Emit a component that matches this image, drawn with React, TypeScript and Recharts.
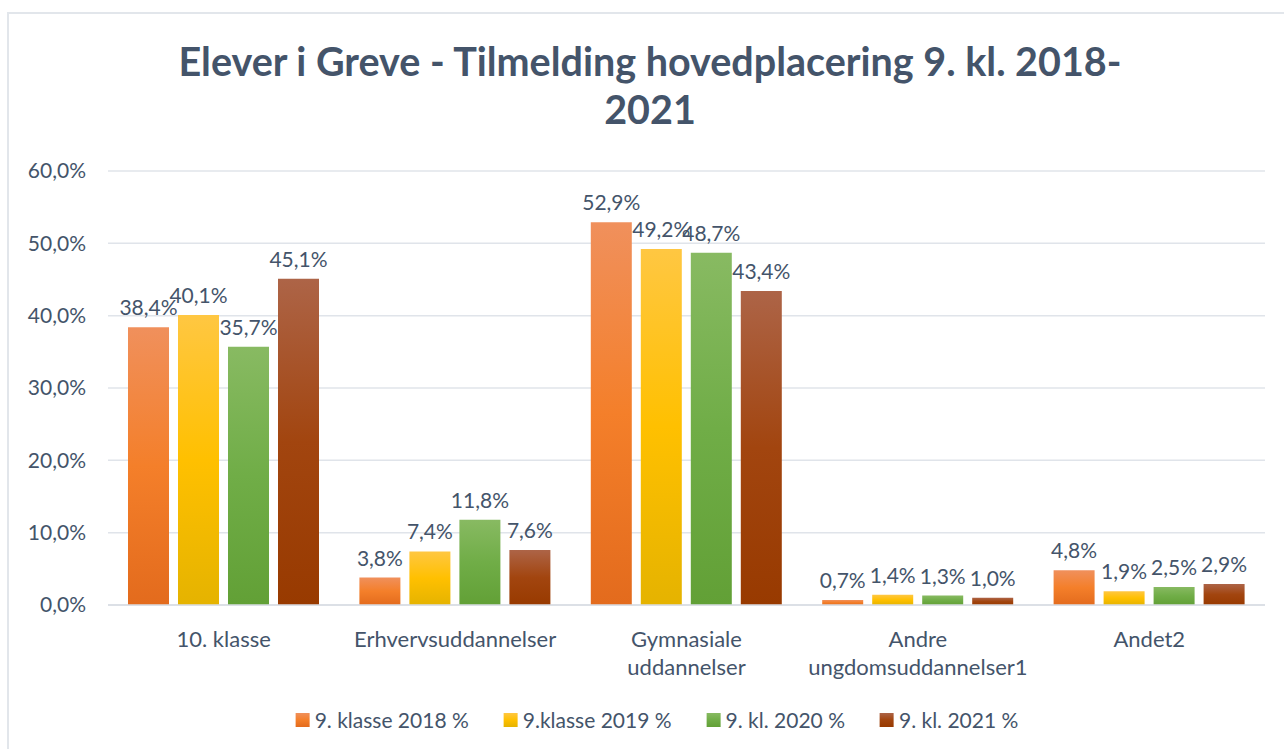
import React from "react";
import { BarChart, Bar, XAxis, YAxis, CartesianGrid, LabelList } from "recharts";

const categories = [
  "10. klasse",
  "Erhvervsuddannelser",
  "Gymnasiale\nuddannelser",
  "Andre\nungdomsuddannelser1",
  "Andet2",
];

const seriesNames = ["9. klasse 2018 %", "9.klasse 2019 %", "9. kl. 2020 %", "9. kl. 2021 %"];

const values2018 = [38.4, 3.8, 52.9, 0.7, 4.8];
const values2019 = [40.1, 7.4, 49.2, 1.4, 1.9];
const values2020 = [35.7, 11.8, 48.7, 1.3, 2.5];
const values2021 = [45.1, 7.6, 43.4, 1.0, 2.9];

const yTicks = [0, 10, 20, 30, 40, 50, 60];

const seriesKeys = ["s2018", "s2019", "s2020", "s2021"];

// top / middle / bottom colours of each bar gradient
const gradients = [
  ["#F0905C", "#F47F2A", "#E36B1D"],
  ["#FFC742", "#FFC000", "#E5B300"],
  ["#88BA62", "#70AD47", "#62A036"],
  ["#AD6447", "#A2450F", "#983A00"],
];

const TEXT = "#44546A";
const FONT = "Lato, 'Open Sans', sans-serif";

const data = categories.map((name, i) => ({
  name,
  s2018: values2018[i],
  s2019: values2019[i],
  s2020: values2020[i],
  s2021: values2021[i],
}));

const pct = (v: number) => v.toFixed(1).replace(".", ",") + "%";

function CategoryTick({ x, y, payload }: any) {
  const lines = String(payload.value).split("\n");
  return (
    <text x={x} y={y + 40} textAnchor="middle" fill={TEXT} fontSize={22} fontFamily={FONT}>
      {lines.map((l, i) => (
        <tspan key={i} x={x} dy={i === 0 ? 0 : 28}>
          {l}
        </tspan>
      ))}
    </text>
  );
}

export default function App() {
  return (
    <div
      style={{
        position: "absolute",
        left: 0,
        top: 0,
        width: 1284,
        height: 749,
        background: "#fff",
        overflow: "hidden",
        fontFamily: FONT,
      }}
    >
      <div
        style={{
          position: "absolute",
          left: 7,
          top: 12,
          width: 1300,
          height: 800,
          border: "2px solid #E2E6EB",
        }}
      />
      <div
        style={{
          position: "absolute",
          left: 100,
          top: 37,
          width: 1100,
          textAlign: "center",
          color: TEXT,
          fontWeight: 700,
          fontSize: 39.5,
          lineHeight: "48px",
        }}
      >
        Elever i Greve - Tilmelding hovedplacering 9. kl. 2018-
        <br />
        2021
      </div>
      <div style={{ position: "absolute", left: 0, top: 0 }}>
        <BarChart
          width={1284}
          height={749}
          data={data}
          margin={{ top: 171, right: 19, left: 0, bottom: 84 }}
          barSize={41}
          barGap={9}
        >
          <defs>
            {gradients.map((g, i) => (
              <linearGradient key={i} id={"grad" + i} x1="0" y1="0" x2="0" y2="1">
                <stop offset="0%" stopColor={g[0]} />
                <stop offset="50%" stopColor={g[1]} />
                <stop offset="100%" stopColor={g[2]} />
              </linearGradient>
            ))}
          </defs>
          <CartesianGrid vertical={false} stroke="#E0E4EA" strokeWidth={1.5} />
          <XAxis
            dataKey="name"
            height={60}
            interval={0}
            axisLine={{ stroke: "#D9DDE3", strokeWidth: 1.5 }}
            tickLine={false}
            tickSize={0}
            tick={<CategoryTick />}
          />
          <YAxis
            width={108}
            domain={[0, 60]}
            ticks={yTicks}
            tickFormatter={pct}
            axisLine={false}
            tickLine={false}
            tickSize={0}
            tickMargin={22}
            tick={{ fill: TEXT, fontSize: 21, fontFamily: FONT }}
          />
          {seriesKeys.map((k, i) => (
            <Bar key={k} dataKey={k} name={seriesNames[i]} fill={`url(#grad${i})`} isAnimationActive={false}>
              <LabelList
                dataKey={k}
                position="top"
                offset={12}
                formatter={(v: any) => pct(Number(v))}
                style={{ fill: TEXT, fontSize: 21, fontFamily: FONT }}
              />
            </Bar>
          ))}
        </BarChart>
      </div>
      <div
        style={{
          position: "absolute",
          left: 657,
          top: 706,
          display: "flex",
          gap: 35,
          color: TEXT,
          fontSize: 21,
          lineHeight: "28px",
          whiteSpace: "nowrap",
          transform: "translateX(-50%)",
        }}
      >
        {seriesNames.map((n, i) => (
          <div key={n} style={{ display: "flex", alignItems: "center" }}>
            <span
              style={{
                display: "inline-block",
                width: 14,
                height: 14,
                marginRight: 5,
                background: `linear-gradient(${gradients[i][0]}, ${gradients[i][1]}, ${gradients[i][2]})`,
              }}
            />
            <span>{n}</span>
          </div>
        ))}
      </div>
    </div>
  );
}
